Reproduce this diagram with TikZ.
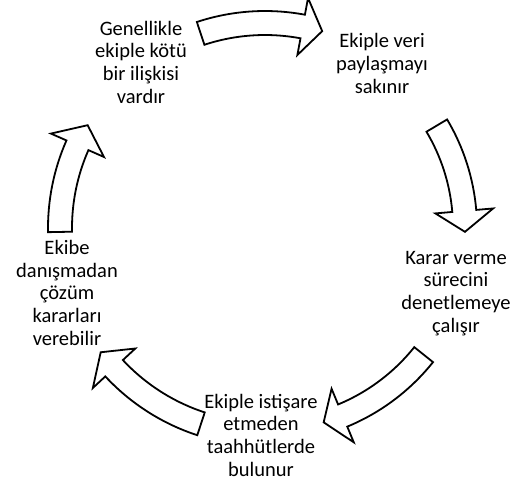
\documentclass[tikz,border=0pt]{standalone}
\usepackage{fontspec}
\setmainfont{Carlito}
\usetikzlibrary{calc}
% curved block arrow on the ring: tail angle, head base angle, tip angle, radius
\newcommand\cyclearrow[4]{%
  \draw [arr] (#1:#4+12) arc [start angle=#1, end angle=#2, radius=#4+12] -- (#2:#4+29) -- %
    (#3:#4) -- (#2:#4-29) -- (#2:#4-12) arc [start angle=#2, end angle=#1, radius=#4-12] -- cycle;}

\begin{document}
\begin{tikzpicture} [x=1pt, y=1pt, %
  txt/.style={anchor=base, align=center, inner sep=0pt, font=\fontsize{20.5}{22.6}\selectfont}, %
  arr/.style={draw=black, fill=white, line width=1.8pt, line join=miter}] %
\useasboundingbox (0,0) rectangle (520,-483); %
 %
\node [txt] (kotu) at (141,-103) {Genellikle\\ekiple kötü\\bir ilişkisi\\vardır}; %
\node [txt] (paylasma) at (382,-93) {Ekiple veri\\paylaşmayı\\sakınır}; %
\node [txt] (karar) at (456,-332) {Karar verme\\sürecini\\denetlemeye\\çalışır}; %
\node [txt] (taahhut) at (261,-476) {Ekiple istişare\\etmeden\\taahhütlerde\\bulunur}; %
\node [txt] (cozum) at (67,-345) {Ekibe\\danışmadan\\çözüm\\kararları\\verebilir}; %
 %
\begin{scope} [shift={(265,-228)}] %
  \cyclearrow{108.3}{79.4}{73.8}{205} %
  \cyclearrow{30.8}{4.9}{-1.1}{200} %
  \cyclearrow{-38.6}{-67.5}{-73.2}{203} %
  \cyclearrow{-108.1}{-137.1}{-142.9}{206} %
  \cyclearrow{181.1}{156.2}{149.9}{205} %
\end{scope} %
\end{tikzpicture}
\end{document}
